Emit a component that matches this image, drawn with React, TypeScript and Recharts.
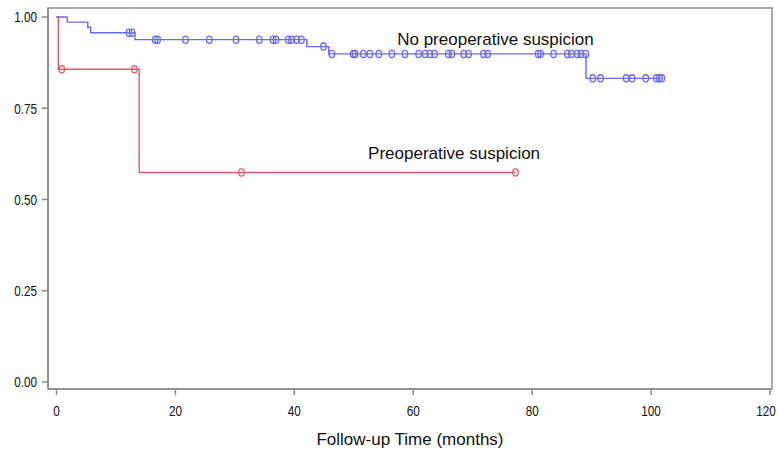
import React from 'react';
import { ComposedChart, XAxis, YAxis, Line, Scatter, ReferenceArea, ReferenceDot } from 'recharts';

// Kaplan-Meier step curves (time in months, survival probability)
const noSuspicionTimes = [0, 1.8, 5.25, 5.75, 13.2, 42.1, 45.8, 89.05, 101.8];
const noSuspicionSurv = [1, 0.986, 0.972, 0.957, 0.938, 0.919, 0.899, 0.832, 0.832];
const noSuspicionCensored = [
  12.2, 12.7, 16.6, 17.0, 21.7, 25.7, 30.2, 34.1, 36.4, 36.9, 39.0, 39.5, 40.4, 41.2,
  44.9, 46.3, 49.9, 50.2, 51.6, 52.7, 54.2, 56.4, 58.6, 60.9, 62.0, 62.8, 63.6, 65.9,
  66.5, 68.5, 69.3, 71.8, 72.5, 81.0, 81.4, 83.6, 85.9, 86.6, 87.6, 88.2, 89.0,
  90.2, 91.5, 95.8, 96.8, 99.1, 100.9, 101.4, 101.8,
];

const suspicionTimes = [0, 0.3, 13.9, 77.2];
const suspicionSurv = [1, 0.857, 0.574, 0.574];
const suspicionCensored = [0.9, 13.1, 31.1, 77.2];

const xTicks = [0, 20, 40, 60, 80, 100, 120];
const yTicks = [0, 0.25, 0.5, 0.75, 1];

const BLUE = '#6a6af2';
const RED = '#de5b6c';
const FRAME = '#8c8c8c';
const TICK_FONT = 'Liberation Sans Narrow, Liberation Sans, Arial, sans-serif';

const levelAt = (times: number[], surv: number[], t: number) => {
  let v = surv[0];
  for (let i = 0; i < times.length; i++) {
    if (times[i] <= t) v = surv[i];
  }
  return v;
};

const blueSteps = noSuspicionTimes.map((t, i) => ({ t, s: noSuspicionSurv[i] }));
const redSteps = suspicionTimes.map((t, i) => ({ t, s: suspicionSurv[i] }));
const blueCens = noSuspicionCensored.map((t) => ({ t, s: levelAt(noSuspicionTimes, noSuspicionSurv, t) }));
const redCens = suspicionCensored.map((t) => ({ t, s: levelAt(suspicionTimes, suspicionSurv, t) }));

const X_DOMAIN: [number, number] = [-1.43, 120.33];
const Y_DOMAIN: [number, number] = [-0.0192, 1.0247];

const censorShape = (color: string) => (props: any) => (
  <ellipse cx={props.cx} cy={props.cy} rx={2.8} ry={3.6} fill="none" stroke={color} strokeWidth={1.3} />
);

const textLabel = (text: string) => (props: any) => {
  const vb = props.viewBox || {};
  return (
    <text
      x={(vb.x || 0) + (vb.width || 0) / 2}
      y={(vb.y || 0) + (vb.height || 0) / 2}
      textAnchor="start"
      fill="#111"
      fontSize={17}
      fontFamily="Liberation Sans, Arial, sans-serif"
    >
      {text}
    </text>
  );
};

const XTick = (props: any) => {
  const { x, y, payload } = props;
  return (
    <text
      x={0}
      y={0}
      dy="0.71em"
      textAnchor="middle"
      fill="#111"
      fontSize={15}
      fontFamily={TICK_FONT}
      transform={`translate(${x},${y}) scale(0.78,1)`}
    >
      {String(payload.value)}
    </text>
  );
};

const YTick = (props: any) => {
  const { x, y, payload } = props;
  return (
    <text
      x={0}
      y={0}
      dy="0.355em"
      textAnchor="end"
      fill="#111"
      fontSize={15}
      fontFamily={TICK_FONT}
      transform={`translate(${x},${y}) scale(0.78,1)`}
    >
      {Number(payload.value).toFixed(2)}
    </text>
  );
};

export default function App() {
  return (
    <div style={{ position: 'absolute', left: 0, top: 0, background: '#fff' }}>
      <ComposedChart width={778} height={458} margin={{ top: 8, right: 6, left: 0, bottom: 0 }}>
        <XAxis
          type="number"
          dataKey="t"
          domain={X_DOMAIN}
          ticks={xTicks}
          allowDataOverflow
          height={69}
          tickSize={6}
          tickMargin={10}
          stroke={FRAME}
          strokeWidth={1.5}
          tick={<XTick />}
          label={{
            value: 'Follow-up Time (months)',
            position: 'insideBottom',
            offset: 13,
            fill: '#111',
            fontSize: 17,
            fontFamily: 'Liberation Sans, Arial, sans-serif',
          }}
        />
        <YAxis
          type="number"
          dataKey="s"
          domain={Y_DOMAIN}
          ticks={yTicks}
          allowDataOverflow
          width={48}
          tickSize={6}
          tickMargin={5}
          stroke={FRAME}
          strokeWidth={1.5}
          tick={<YTick />}
        />
        <ReferenceArea
          x1={X_DOMAIN[0]}
          x2={X_DOMAIN[1]}
          y1={Y_DOMAIN[0]}
          y2={Y_DOMAIN[1]}
          fill="none"
          fillOpacity={0}
          stroke={FRAME}
          strokeWidth={1.5}
          ifOverflow="visible"
        />
        <Line
          data={redSteps}
          dataKey="s"
          type="stepAfter"
          stroke={RED}
          strokeWidth={1.4}
          dot={false}
          activeDot={false}
          isAnimationActive={false}
        />
        <Line
          data={blueSteps}
          dataKey="s"
          type="stepAfter"
          stroke={BLUE}
          strokeWidth={1.4}
          dot={false}
          activeDot={false}
          isAnimationActive={false}
        />
        <Scatter data={redCens} dataKey="s" shape={censorShape(RED)} isAnimationActive={false} />
        <Scatter data={blueCens} dataKey="s" shape={censorShape(BLUE)} isAnimationActive={false} />
        <ReferenceDot
          x={57.3}
          y={0.923}
          r={1}
          fill="none"
          stroke="none"
          label={textLabel('No preoperative suspicion')}
        />
        <ReferenceDot
          x={52.4}
          y={0.611}
          r={1}
          fill="none"
          stroke="none"
          label={textLabel('Preoperative suspicion')}
        />
      </ComposedChart>
    </div>
  );
}
